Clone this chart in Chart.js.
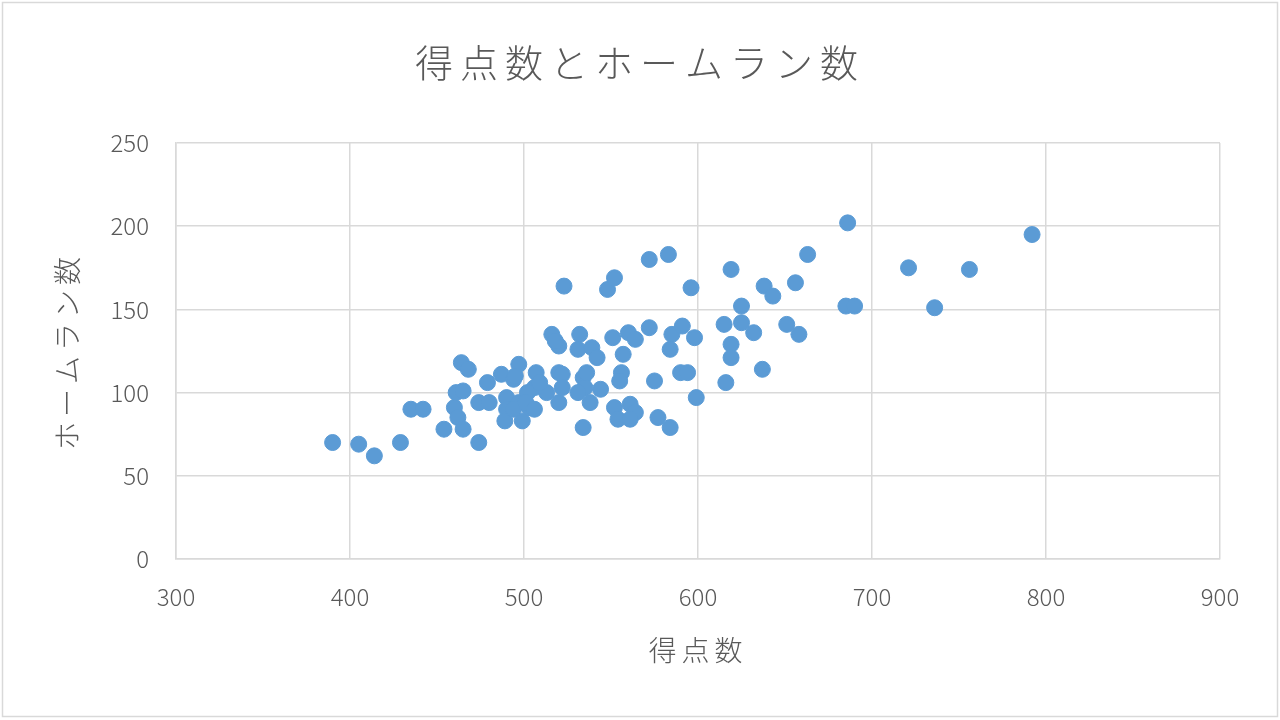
<!DOCTYPE html>
<html>
<head>
<meta charset="utf-8">
<script src="https://cdn.jsdelivr.net/npm/chart.js@4.4.0/dist/chart.umd.min.js"></script>
<style>
  html, body { margin: 0; padding: 0; background: #ffffff; }
  #wrap { width: 1280px; height: 720px; position: relative; }
</style>
</head>
<body>
<div id="wrap"><canvas id="c"></canvas></div>
<script>
const chartTitle = '得点数とホームラン数';
const xTitle = '得点数';
const yTitle = 'ホームラン数';
const xTicks = [300, 400, 500, 600, 700, 800, 900];
const yTicks = [0, 50, 100, 150, 200, 250];

const runs = [
  390, 405, 414, 429, 435, 442, 454, 460, 462, 465, 461, 465, 464, 468, 474, 474, 480, 479, 487, 494,
  497, 490, 490, 489, 499, 497, 503, 506, 507, 502, 513, 520, 520, 516, 520, 523, 509, 494, 501, 506,
  495, 518,
  532, 531, 539, 542, 522, 522, 534, 535, 544, 531, 538, 534, 536, 548, 552, 551, 560, 564, 557, 556,
  555, 552, 561, 564, 554, 561, 572, 583, 572, 575, 577, 584, 585, 584, 591, 598, 590, 594, 596, 599,
  619, 615, 619, 619, 616, 625, 625, 632, 638, 643, 637, 651, 658, 656, 663, 686, 685, 690, 721, 736,
  756, 792
];
const homeRuns = [
  70, 69, 62, 70, 90, 90, 78, 91, 85, 78, 100, 101, 118, 114, 70, 94, 94, 106, 111, 108,
  117, 97, 90, 83, 83, 94, 91, 103, 112, 100, 100, 112, 94, 135, 128, 164, 106, 90, 94, 90,
  110, 131,
  135, 126, 127, 121, 111, 103, 109, 103, 102, 100, 94, 79, 112, 162, 169, 133, 136, 132, 123, 112,
  107, 91, 93, 88, 84, 84, 180, 183, 139, 107, 85, 79, 135, 126, 140, 133, 112, 112, 163, 97,
  174, 141, 129, 121, 106, 152, 142, 136, 164, 158, 114, 141, 135, 166, 183, 202, 152, 152, 175, 151,
  174, 195
];

const points = runs.map((r, i) => ({ x: r, y: homeRuns[i] }));

const FONT = "'Noto Sans CJK JP', 'Noto Sans', sans-serif";
const TEXT = '#595959';
const GRID = '#d9d9d9';

const spacingPlugin = {
  id: 'spacing',
  beforeDraw(chart) {
    const wrap = (obj, key, sp) => {
      if (!obj || obj['__w_' + key]) return;
      const orig = obj[key];
      obj[key] = function (...args) {
        const ctx = chart.ctx;
        ctx.save();
        ctx.letterSpacing = sp;
        const r = orig.apply(this, args);
        ctx.restore();
        return r;
      };
      obj['__w_' + key] = true;
    };
    wrap(chart.titleBlock, 'draw', '7px');
    wrap(chart.scales.x, 'drawTitle', '5px');
    wrap(chart.scales.y, 'drawTitle', '5px');
  }
};

const borderPlugin = {
  id: 'outerBorder',
  afterDraw(chart) {
    const ctx = chart.ctx;
    ctx.save();
    ctx.strokeStyle = GRID;
    ctx.lineWidth = 1.5;
    ctx.strokeRect(2.5, 2.5, 1275, 714);
    ctx.restore();
  }
};

new Chart(document.getElementById('c'), {
  type: 'scatter',
  data: {
    datasets: [{
      data: points,
      backgroundColor: '#5B9BD5',
      borderColor: '#5B9BD5',
      borderWidth: 1,
      pointRadius: 8,
      pointHoverRadius: 8
    }]
  },
  options: {
    responsive: true,
    maintainAspectRatio: false,
    devicePixelRatio: 1,
    animation: false,
    layout: { padding: 0 },
    plugins: {
      legend: { display: false },
      tooltip: { enabled: false },
      title: {
        display: true,
        text: chartTitle,
        color: TEXT,
        font: { family: FONT, size: 38, weight: 300 },
        padding: { top: 40, bottom: 57.4 }
      }
    },
    scales: {
      x: {
        type: 'linear',
        min: xTicks[0],
        max: xTicks[xTicks.length - 1],
        afterBuildTicks: (s) => { s.ticks = xTicks.map(v => ({ value: v })); },
        afterFit: (s) => { s.height = 161; },
        grid: { color: GRID, lineWidth: 1.5, drawTicks: false },
        border: { color: GRID, width: 1.5 },
        ticks: { color: TEXT, padding: 23, font: { family: FONT, size: 24, weight: 300 } },
        title: {
          display: true, text: xTitle, color: TEXT,
          font: { family: FONT, size: 28, weight: 300 },
          padding: { bottom: 53 }
        }
      },
      y: {
        type: 'linear',
        min: yTicks[0],
        max: yTicks[yTicks.length - 1],
        afterBuildTicks: (s) => { s.ticks = yTicks.map(v => ({ value: v })); },
        afterFit: (s) => { s.width = 176; },
        grid: { color: GRID, lineWidth: 1.5, drawTicks: false },
        border: { color: GRID, width: 1.5 },
        ticks: { color: TEXT, padding: 27, font: { family: FONT, size: 24, weight: 300 } },
        title: {
          display: true, text: yTitle, color: TEXT,
          font: { family: FONT, size: 28, weight: 300 },
          padding: { top: 51 }
        }
      },
      yRight: {
        type: 'linear',
        position: 'right',
        min: yTicks[0],
        max: yTicks[yTicks.length - 1],
        afterFit: (s) => { s.width = 60; },
        grid: { display: false, drawOnChartArea: false },
        border: { display: false },
        ticks: { display: false }
      }
    }
  },
  plugins: [spacingPlugin, borderPlugin]
});
</script>
</body>
</html>
